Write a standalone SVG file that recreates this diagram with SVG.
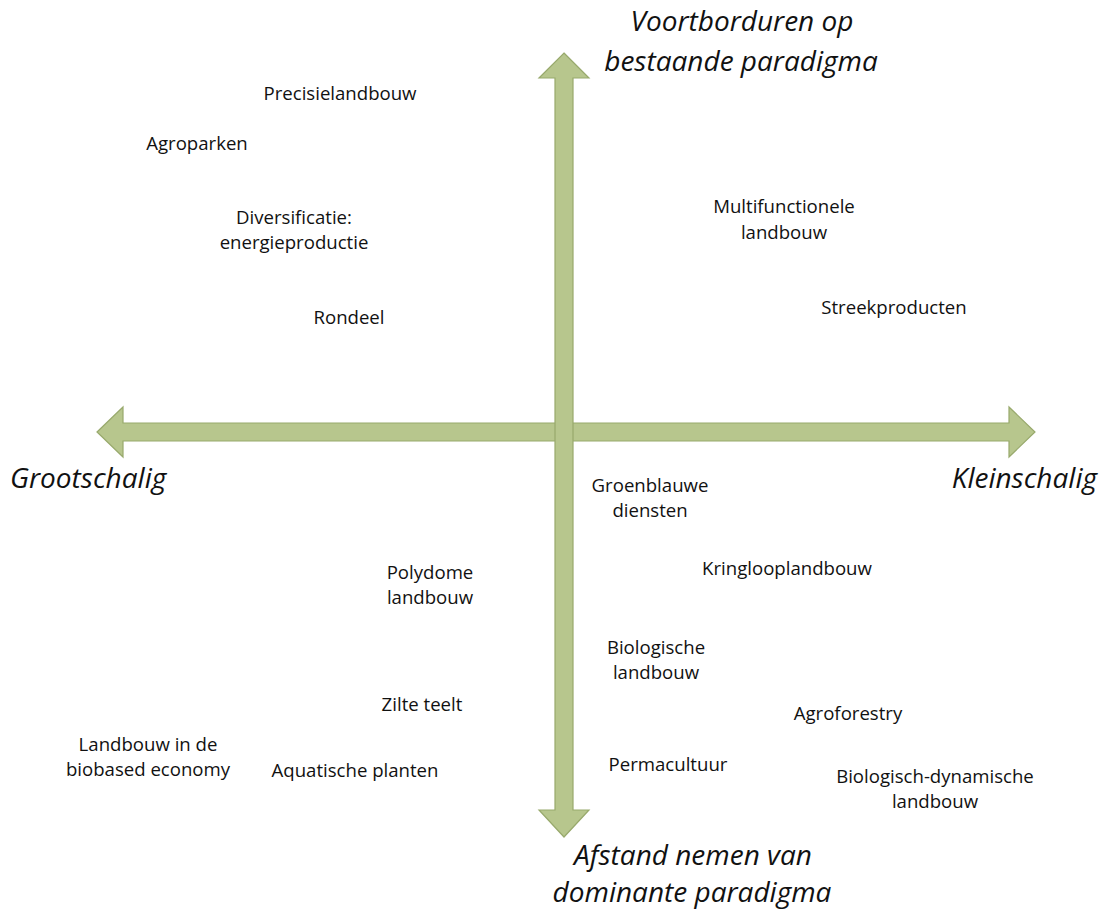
<svg xmlns="http://www.w3.org/2000/svg" width="1105" height="922" viewBox="0 0 1105 922">
<style>
.arrow{fill:#b7c68d;stroke:#98a96c;stroke-width:1.2}
.lbl{font-family:"Open Sans","Liberation Sans",sans-serif;font-size:18.6px;fill:#111;text-anchor:middle}
.axis{font-family:"Open Sans","Liberation Sans",sans-serif;font-size:28px;font-style:italic;fill:#111}
</style>
<rect width="1105" height="922" fill="#fff"/>
<g id="connectors">
<path id="h-axis" class="arrow" d="M97,432 L123,407 L123,423 L1009,423 L1009,407 L1035,432 L1009,457 L1009,441 L123,441 L123,457 Z"/>
<path id="v-axis" class="arrow" d="M564,53 L589,78 L573,78 L573,810 L589,810 L564,837 L539,810 L555,810 L555,78 L539,78 Z"/>
</g>
<g id="axis-top"><text class="axis" text-anchor="middle" x="742" y="31">Voortborduren op</text><text class="axis" text-anchor="middle" x="741" y="71">bestaande paradigma</text></g>
<g id="axis-bottom"><text class="axis" text-anchor="middle" x="693" y="865">Afstand nemen van</text><text class="axis" text-anchor="middle" x="692" y="902">dominante paradigma</text></g>
<g id="axis-left"><text class="axis" x="10" y="488">Grootschalig</text></g>
<g id="axis-right"><text class="axis" text-anchor="end" x="1097" y="488">Kleinschalig</text></g>
<g id="precisielandbouw"><text class="lbl" x="340" y="100">Precisielandbouw</text></g>
<g id="agroparken"><text class="lbl" x="197" y="150">Agroparken</text></g>
<g id="diversificatie"><text class="lbl" x="294" y="224">Diversificatie:</text><text class="lbl" x="294" y="249">energieproductie</text></g>
<g id="rondeel"><text class="lbl" x="349" y="324">Rondeel</text></g>
<g id="multifunctionele"><text class="lbl" x="784" y="213">Multifunctionele</text><text class="lbl" x="784" y="239">landbouw</text></g>
<g id="streekproducten"><text class="lbl" x="894" y="314">Streekproducten</text></g>
<g id="groenblauwe"><text class="lbl" x="650" y="492">Groenblauwe</text><text class="lbl" x="650" y="517">diensten</text></g>
<g id="kringlooplandbouw"><text class="lbl" x="787" y="575">Kringlooplandbouw</text></g>
<g id="polydome"><text class="lbl" x="430" y="579">Polydome</text><text class="lbl" x="430" y="604">landbouw</text></g>
<g id="biologische"><text class="lbl" x="656" y="654">Biologische</text><text class="lbl" x="656" y="679">landbouw</text></g>
<g id="zilte"><text class="lbl" x="422" y="711">Zilte teelt</text></g>
<g id="agroforestry"><text class="lbl" x="848" y="720">Agroforestry</text></g>
<g id="biobased"><text class="lbl" x="148" y="751">Landbouw in de</text><text class="lbl" x="148" y="776">biobased economy</text></g>
<g id="aquatische"><text class="lbl" x="355" y="777">Aquatische planten</text></g>
<g id="permacultuur"><text class="lbl" x="668" y="771">Permacultuur</text></g>
<g id="biodynamisch"><text class="lbl" x="935" y="783">Biologisch-dynamische</text><text class="lbl" x="935" y="808">landbouw</text></g>
</svg>
